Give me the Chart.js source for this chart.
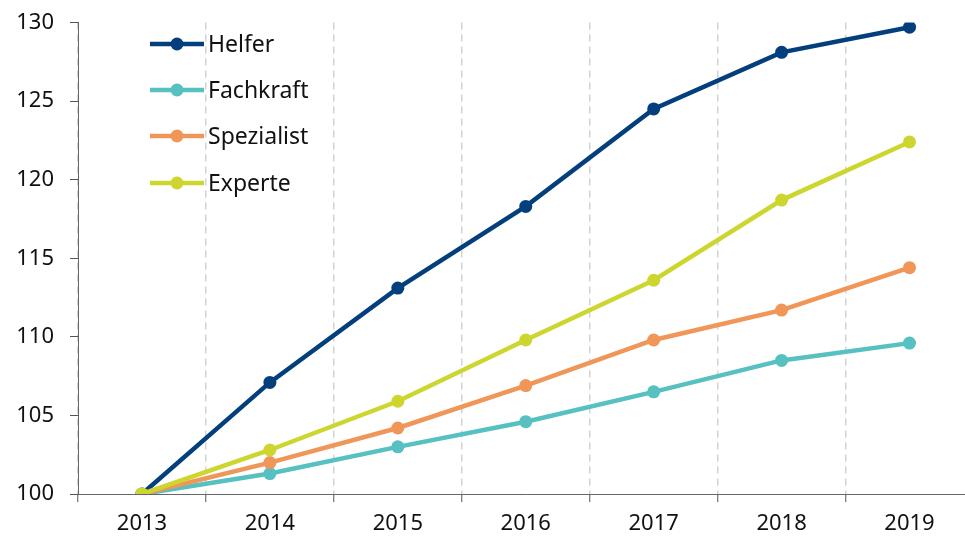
<!DOCTYPE html>
<html>
<head>
<meta charset="utf-8">
<script src="https://cdn.jsdelivr.net/npm/chart.js"></script>
<style>
  html, body { margin: 0; padding: 0; background: #fff; overflow: hidden; }
  #wrap { width: 965px; height: 540px; overflow: hidden; position: relative; }
  #box { width: 980px; height: 540px; position: absolute; left: 0; top: 0; }
</style>
</head>
<body>
<div id="wrap"><div id="box"><canvas id="chart"></canvas></div></div>
<script>
// Daten (Index 2013 = 100)
const years = ['2013', '2014', '2015', '2016', '2017', '2018', '2019'];
const helfer = [100, 107.1, 113.1, 118.3, 124.5, 128.1, 129.7];
const fachkraft = [100, 101.3, 103.0, 104.6, 106.5, 108.5, 109.6];
const spezialist = [100, 102.0, 104.2, 106.9, 109.8, 111.7, 114.4];
const experte = [100, 102.8, 105.9, 109.8, 113.6, 118.7, 122.4];
const yTicks = [100, 105, 110, 115, 120, 125, 130];

const FONT = '"Noto Sans", sans-serif';

function series(label, data, color, order) {
  return {
    label,
    data,
    borderColor: color,
    backgroundColor: color,
    borderWidth: 4.5,
    pointRadius: 6.5,
    pointHoverRadius: 6.5,
    pointBorderWidth: 0,
    tension: 0,
    order
  };
}

// Legende oben links im Diagramm
const legendInside = {
  id: 'legendInside',
  afterDraw(chart) {
    const ctx = chart.ctx;
    const rows = [44, 90, 136, 183];
    ctx.save();
    chart.data.datasets.forEach((ds, i) => {
      const y = rows[i];
      ctx.strokeStyle = ds.borderColor;
      ctx.lineWidth = 4.5;
      ctx.beginPath();
      ctx.moveTo(150, y);
      ctx.lineTo(204, y);
      ctx.stroke();
      ctx.fillStyle = ds.borderColor;
      ctx.beginPath();
      ctx.arc(177, y, 6.5, 0, Math.PI * 2);
      ctx.fill();
      ctx.fillStyle = '#111';
      ctx.font = '23px ' + FONT;
      ctx.textBaseline = 'middle';
      ctx.textAlign = 'left';
      ctx.fillText(ds.label, 208, y + 1);
    });
    ctx.restore();
  }
};

new Chart(document.getElementById('chart'), {
  type: 'line',
  data: {
    labels: years,
    datasets: [
      series('Helfer', helfer, '#033f7c', 3),
      series('Fachkraft', fachkraft, '#57c0c0', 2),
      series('Spezialist', spezialist, '#ef9658', 1),
      series('Experte', experte, '#cdd62f', 0)
    ]
  },
  options: {
    responsive: true,
    maintainAspectRatio: false,
    animation: false,
    layout: { padding: { top: 22.5, right: 6, left: 0, bottom: 0 } },
    plugins: {
      legend: { display: false },
      tooltip: { enabled: false }
    },
    scales: {
      x: {
        offset: true,
        grid: {
          offset: true,
          color: '#d4d4d4',
          lineWidth: 1.5,
          tickColor: '#555',
          tickWidth: 1,
          tickBorderDash: [],
          tickLength: 8
        },
        border: { display: true, color: '#666', width: 1, dash: [7, 5] },
        ticks: {
          color: '#111',
          font: { family: FONT, size: 22 },
          padding: 9
        },
        afterFit(scale) { scale.height = 46; }
      },
      y: {
        min: 100,
        max: 130,
        afterBuildTicks(scale) {
          scale.ticks = yTicks.map(v => ({ value: v }));
        },
        grid: {
          drawOnChartArea: false,
          color: '#555',
          tickLength: 8
        },
        border: { display: true, color: '#666', width: 1 },
        ticks: {
          color: '#111',
          font: { family: FONT, size: 22 },
          padding: 16
        },
        afterFit(scale) {
          scale.width = 78;
          scale.paddingTop = 0;
          scale.paddingBottom = 0;
        }
      }
    }
  },
  plugins: [legendInside]
});
</script>
</body>
</html>
